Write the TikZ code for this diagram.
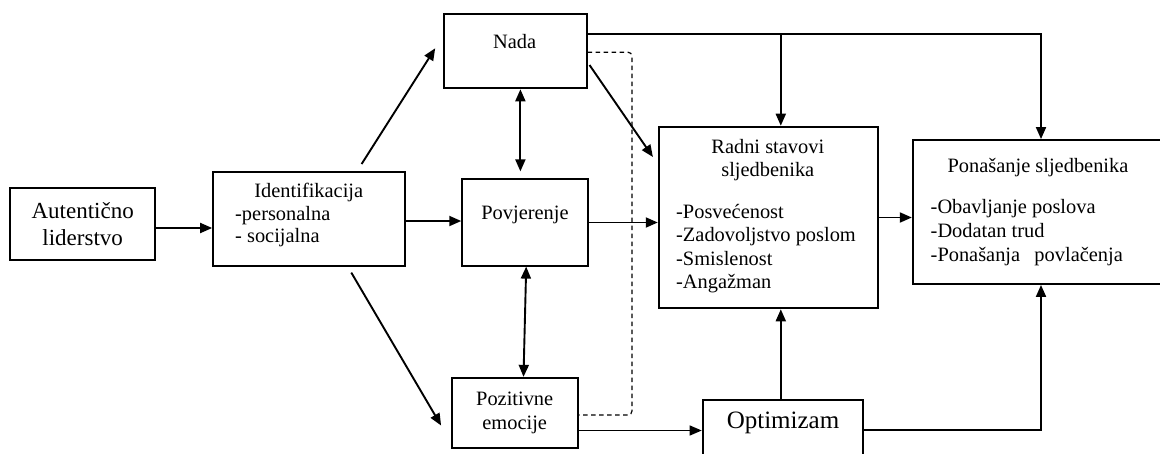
\documentclass[tikz,border=0pt]{standalone}
\usepackage{fontspec}
\setmainfont{Liberation Serif}
\usetikzlibrary{arrows.meta,positioning,calc}

\begin{document}
\begin{tikzpicture}[
    x=1pt, y=-1pt,
    box/.style={draw, line width=1.9pt, inner sep=0pt, align=center, font=\fontsize{20.4}{23.5}\selectfont},
    txt/.style={inner sep=0pt, align=left, font=\fontsize{20.4}{23.5}\selectfont},
    arr/.style={-{Triangle[length=12pt, width=10pt]}, line width=1.9pt},
    dbl/.style={{Triangle[length=12pt, width=10pt]}-{Triangle[length=12pt, width=10pt]}, line width=1.9pt},
    thinarr/.style={-{Triangle[length=12pt, width=10pt]}, line width=1.3pt}
]
\useasboundingbox (0,0) rectangle (1160,453);
\clip (0,0) rectangle (1160,453);

% Boxes
\node[box, minimum width=144.7pt, minimum height=71.7pt, font=\fontsize{23}{27}\selectfont] (aut) at (82.7,224.2) {Autentično\\liderstvo};
\node[box, minimum width=191.8pt, minimum height=93.7pt] (ident) at (309,219) {};
\node[box, minimum width=142.7pt, minimum height=74.3pt] (nada) at (515.2,51.2) {};
\node[box, minimum width=125.6pt, minimum height=86.3pt] (povj) at (525,222.5) {};
\node[box, minimum width=126.3pt, minimum height=70pt] (poz) at (514.7,412.8) {Pozitivne\\emocije};
\node[box, minimum width=218.9pt, minimum height=181.7pt] (radni) at (768.2,217.5) {};
\node[box, minimum width=262.2pt, minimum height=144pt] (pon) at (1043.9,212) {};
\node[box, minimum width=160.7pt, minimum height=70pt] (opt) at (783,435) {};

% Texts
\node[txt] (identt) at (308.8,192) {Identifikacija};
\node[txt, anchor=west, font=\fontsize{20.4}{22}\selectfont] (identl) at (235,227) {-personalna\\- socijalna};
\node[txt] (nadat) at (514.7,42) {Nada};
\node[txt] (povjt) at (525,215) {Povjerenje};
\node[txt, font=\fontsize{25}{30}\selectfont] (optt) at (783,423) {Optimizam};
\node[txt, align=center] (radnit) at (767.8,160) {Radni stavovi\\sljedbenika};
\node[txt, anchor=west] (radnil) at (676,248.5) {-Posvećenost\\-Zadovoljstvo poslom\\-Smislenost\\-Angažman};
\node[txt] (pont) at (1038,168) {Ponašanje sljedbenika};
\node[txt, anchor=west, font=\fontsize{20.4}{24}\selectfont] (ponl) at (930.5,233) {-Obavljanje poslova\\-Dodatan trud\\-Ponašanja\hspace{0.7em}povlačenja};

% Identification paths
\draw[arr] (aut.east |- 0,228) -- (ident.west |- 0,228);
\draw[arr] (ident.east |- 0,221) -- (povj.west |- 0,221);
\draw[arr] ([shift={(52.6,-7.2)}]ident.north) -- ([shift={(-7.7,-2.9)}]nada.west);
\draw[arr] ([shift={(42.3,5.8)}]ident.south) -- ([shift={(-9.5,12.7)}]poz.west);

% Links between Nada, Povjerenje and emocije
\draw[dbl, shorten >=7pt] ([xshift=5.2]nada.south) -- ([xshift=5.2]nada.south |- povj.north);
\draw[dbl] ([xshift=1.2]povj.south) -- ([xshift=8.8]poz.north);
\draw[line width=1.2pt, dash pattern=on 4.5pt off 3.5pt, rounded corners=4pt] ([yshift=-1]nada.east) -| (632,415) -- ([yshift=-2.2]poz.east);

% Into work attitudes
\draw[arr] ([shift={(2,13.8)}]nada.east) -- ([shift={(-4.9,31.3)}]radni.north west);
\draw[arr] (povj.east) -- (povj.east -| radni.west);
\draw[arr] (radni.east) -- (radni.east -| pon.west);

% Top line from Nada
\coordinate (nadaout) at ([yshift=17]nada.east);
\draw[arr] (nadaout) -| ([xshift=-2.9]pon.north);
\draw[arr] ([xshift=12.6]radni.north |- nadaout) -- ([xshift=12.6]radni.north);

% Optimizam
\draw[thinarr] ([yshift=-17.7]poz.east) -- ([yshift=-17.7]poz.east -| opt.west);
\draw[arr] ([xshift=-2.2]opt.north) -- ([xshift=-2.2]opt.north |- radni.south);
\draw[arr] ([yshift=5]opt.east) -| ([xshift=-2.9]pon.south);

\end{tikzpicture}
\end{document}
